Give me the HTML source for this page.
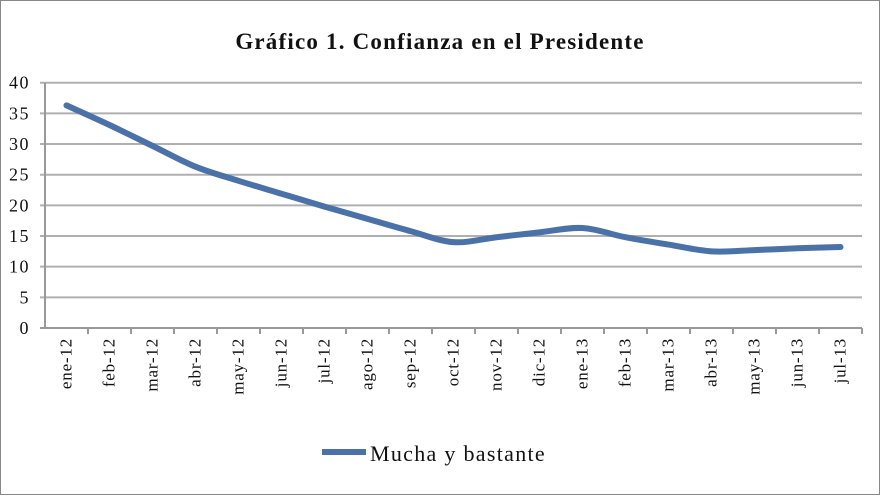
<!DOCTYPE html>
<html><head><meta charset="utf-8"><style>
body{margin:0;background:#fff;}
svg text{font-family:"Liberation Serif",serif;fill:#111;}
</style></head><body>
<svg width="880" height="495" xmlns="http://www.w3.org/2000/svg">
<rect x="0.5" y="0.5" width="879" height="494" fill="#fff" stroke="#888"/>
<text x="440" y="49" text-anchor="middle" font-size="23" font-weight="bold" letter-spacing="1.2">Gráfico 1. Confianza en el Presidente</text>
<g id="grid"></g><g id="axes"></g><g id="series"></g>
<g>
<line x1="322" y1="452" x2="366" y2="452" stroke="#4a72a8" stroke-width="6"/>
<text x="370" y="461" font-size="22" letter-spacing="1.3">Mucha y bastante</text>
</g>
</svg>
<script>
const categories=["ene-12","feb-12","mar-12","abr-12","may-12","jun-12","jul-12","ago-12","sep-12","oct-12","nov-12","dic-12","ene-13","feb-13","mar-13","abr-13","may-13","jun-13","jul-13"];
const values=[36.3,33.1,29.7,26.3,24.0,21.9,19.8,17.8,15.8,14.0,14.8,15.6,16.3,14.8,13.6,12.5,12.7,13.0,13.2];
const yTicks=[0,5,10,15,20,25,30,35,40];
const NS="http://www.w3.org/2000/svg";
const L=45,R=862,T=82.7,B=328,YMAX=40;
const bw=(R-L)/categories.length;
const x=i=>L+bw*(i+0.5);
const y=v=>B-(v/YMAX)*(B-T);
function mk(t,a,p){const e=document.createElementNS(NS,t);for(const k in a)e.setAttribute(k,a[k]);p.appendChild(e);return e;}
const grid=document.getElementById('grid'),axes=document.getElementById('axes'),ser=document.getElementById('series');
yTicks.forEach(v=>{
 const g=mk('line',{x1:40,x2:R,y1:y(v),y2:y(v),stroke:v===0?'#999':'#b0b0b0','stroke-width':2},grid);
 
 
 const t=mk('text',{x:30,y:y(v)+6,'text-anchor':'end','font-size':18,'letter-spacing':1.5},axes);
 t.textContent=v;
 
 
});
const ya=mk('line',{x1:L,x2:L,y1:T,y2:B,stroke:'#999','stroke-width':2},axes);


categories.forEach((c,i)=>{
 const tk=mk('line',{x1:L+bw*(i+1),x2:L+bw*(i+1),y1:B,y2:B+6,stroke:'#999','stroke-width':2},axes);
 
 
 const t=mk('text',{x:0,y:0,'text-anchor':'end','font-size':17,'letter-spacing':0.8,transform:`translate(${x(i)+5},${B+10}) rotate(-90)`},axes);
 t.textContent=c;
 
 
});
const pts=values.map((v,i)=>[x(i),y(v)]);
let d='M'+pts[0].join(',');
for(let i=0;i<pts.length-1;i++){
 const p0=pts[i-1]||pts[i],p1=pts[i],p2=pts[i+1],p3=pts[i+2]||p2;
 const c1=[p1[0]+(p2[0]-p0[0])/6,p1[1]+(p2[1]-p0[1])/6],c2=[p2[0]-(p3[0]-p1[0])/6,p2[1]-(p3[1]-p1[1])/6];
 d+=`C${c1} ${c2} ${p2}`;
}
const line=mk('path',{d:d,fill:'none',stroke:'#4a72a8','stroke-width':6,'stroke-linecap':'round'},ser);


</script>
</body></html>
